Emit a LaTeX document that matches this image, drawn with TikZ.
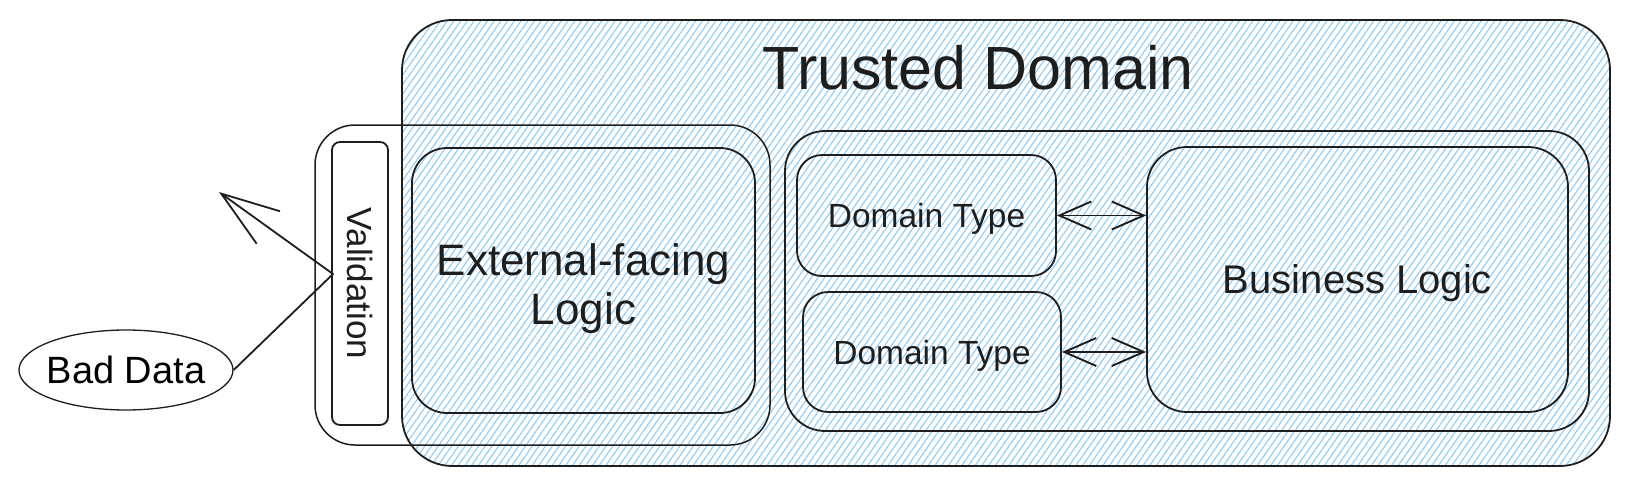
\documentclass[tikz,border=0pt]{standalone}
\usepackage{fontspec}
\setmainfont{Liberation Sans}
\usepackage{xcolor}
\usepackage{tikz}
\usetikzlibrary{arrows.meta,patterns.meta,shapes.geometric}
\definecolor{tdInk}{HTML}{1E1E1E}
\definecolor{tdHatch}{HTML}{8FCBF6}
\tikzset{
  zone/.style={rectangle,rounded corners=#1,draw=tdInk,
    line width=1.8pt,inner sep=0pt,text=tdInk},
  zone/.default=36pt,
  hatch/.style={pattern={Lines[angle=55,distance=5.5pt,line width=1.1pt]},
    pattern color=tdHatch},
  titletext/.style={font=\fontsize{61}{72}\selectfont,text=tdInk},
  bigtext/.style={font=\fontsize{40}{48}\selectfont,text height=28.6pt,text depth=0pt},
  midtext/.style={font=\fontsize{33.5}{40}\selectfont,text height=24pt,text depth=0pt},
  smalltext/.style={font=\fontsize{35}{42}\selectfont,text height=25pt,text depth=0pt},
  exttext/.style={font=\fontsize{44}{49}\selectfont,align=center,
    text height=87pt,text depth=0pt},
  bidir/.style={{Straight Barb[length=32pt,width=28pt]}-{Straight Barb[length=32pt,width=28pt]},
    line width=1.9pt,color=tdInk},
  reject/.style={-{Straight Barb[length=58pt,width=40pt]},line width=1.8pt,
    color=tdInk,line join=round},
}

\begin{document}
\begin{tikzpicture}[x=1pt,y=-1pt]

  \path[fill=white,use as bounding box] (0,0) rectangle (1628,487);

  % trusted area
  \node[zone=50pt,hatch,minimum width=1208pt,minimum height=446pt] (trusted)
    at (1006,243) {};
  \node[titletext,anchor=base] (tdlabel) at (978,89) {Trusted Domain};

  % boundary layer
  \node[zone=40pt,line width=1.5pt,minimum width=455pt,minimum height=320pt] (edge)
    at (542.5,285) {};
  \node[zone=8pt,smalltext,rotate=-90,minimum width=283pt,minimum height=56pt] (valid)
    at (360,283.5) {Validation};
  \node[zone=35pt,exttext,minimum width=343pt,minimum height=265pt] (extlogic)
    at (583.5,280.5) {External-facing\\Logic};

  % core
  \node[zone=40pt,minimum width=804pt,minimum height=300pt] (core)
    at (1187,281) {};
  \node[zone=25pt,midtext,minimum width=259pt,minimum height=121pt] (dtA)
    at (926.5,215.5) {Domain Type};
  \node[zone=25pt,midtext,minimum width=258pt,minimum height=120pt] (dtB)
    at (932,352) {Domain Type};
  \node[zone=40pt,bigtext,minimum width=421pt,minimum height=265pt] (biz)
    at (1357.5,279.5) {Business Logic};

  \draw[bidir] (dtA.east) -- (dtA.east -| biz.west);
  \draw[bidir] (dtB.east) -- (dtB.east -| biz.west);

  % rejected input
  \node[ellipse,draw=tdInk,line width=1.3pt,font=\fontsize{38}{45}\selectfont,
    text height=27pt,text depth=0pt,minimum width=214pt,minimum height=80pt,
    inner ysep=0pt,inner xsep=-30pt] (bad) at (126,370) {Bad Data};
  \coordinate (hit) at (333,274);
  \coordinate (bounce) at (219,192);
  \draw[reject] (bad.east) -- (hit) -- (bounce);

\end{tikzpicture}
\end{document}
